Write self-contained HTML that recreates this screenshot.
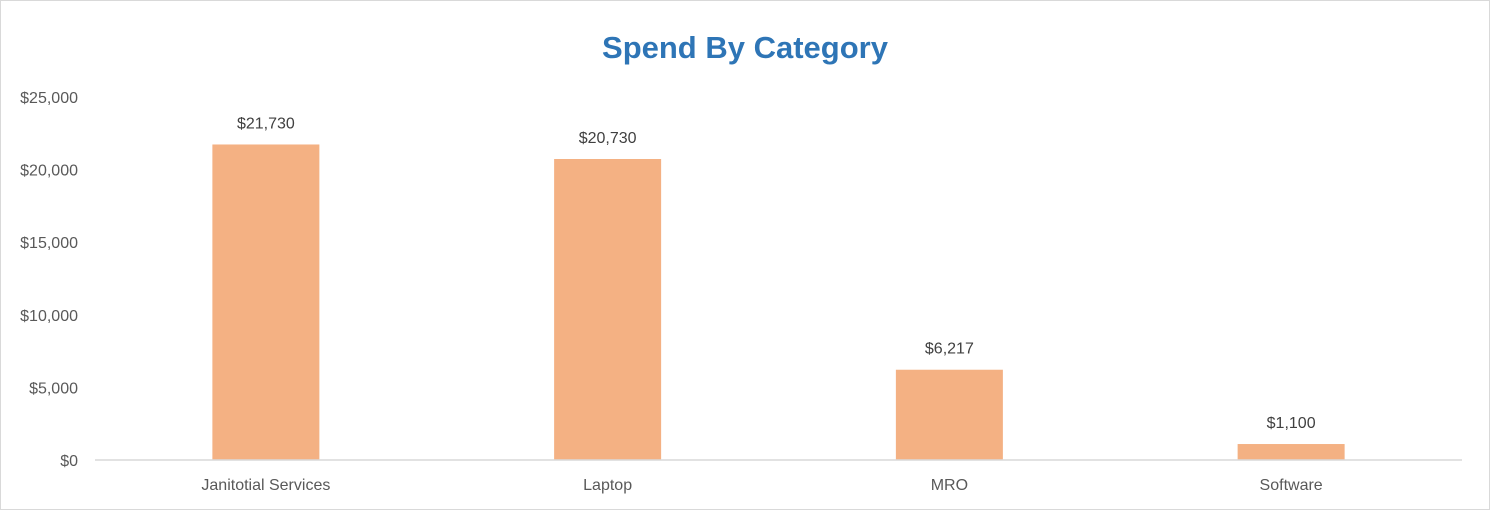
<!DOCTYPE html>
<html><head><meta charset="utf-8"><style>
html,body{margin:0;padding:0;background:#fff;}
svg{display:block;font-family:"Liberation Sans",Carlito,sans-serif;}
</style></head><body>
<svg id="chart" width="1490" height="510">
<rect x="0.5" y="0.5" width="1489" height="509" fill="#fff" stroke="#d9d9d9"/>
<text x="745" y="58" text-anchor="middle" font-size="31" font-weight="bold" fill="#2E75B6">Spend By Category</text>
<g id="yaxis"></g>
<g id="bars"></g>
<line x1="95" y1="460" x2="1462" y2="460" stroke="#d9d9d9" stroke-width="1.5"/>
<g id="xaxis"></g>
</svg>
<script>
const categories = ["Janitotial Services","Laptop","MRO","Software"];
const values = [21730,20730,6217,1100];
const valueLabels = ["$21,730","$20,730","$6,217","$1,100"];
const yTicks = [0,5000,10000,15000,20000,25000];
const yTickLabels = ["$0","$5,000","$10,000","$15,000","$20,000","$25,000"];

const NS="http://www.w3.org/2000/svg";
const x0=95,x1=1462,yBase=460,yTop=97,yMax=25000;
const y=v=>yBase-(v/yMax)*(yBase-yTop);
const band=(x1-x0)/categories.length;
const xc=i=>x0+band*(i+0.5);
const barW=107;
function mk(t,attrs,parent){const e=document.createElementNS(NS,t);for(const k in attrs)e.setAttribute(k,attrs[k]);parent.appendChild(e);return e;}
const ya=document.getElementById('yaxis'),bg=document.getElementById('bars'),xa=document.getElementById('xaxis');
yTicks.forEach((v,i)=>{
  const t=mk('text',{x:78,y:y(v)+6,'text-anchor':'end','font-size':16,fill:'#595959'},ya);
  
  
  t.textContent=yTickLabels[i];
});
categories.forEach((c,i)=>{
  const r=mk('rect',{x:xc(i)-barW/2,y:y(values[i]),width:barW,height:yBase-y(values[i]),fill:'#F4B183'},bg);
  
  
  const l=mk('text',{x:xc(i),y:y(values[i])-16,'text-anchor':'middle','font-size':16,fill:'#404040'},bg);
  
  
  l.textContent=valueLabels[i];
  const t=mk('text',{x:xc(i),y:490,'text-anchor':'middle','font-size':16,fill:'#595959'},xa);
  
  
  t.textContent=c;
});
</script>
</body></html>
